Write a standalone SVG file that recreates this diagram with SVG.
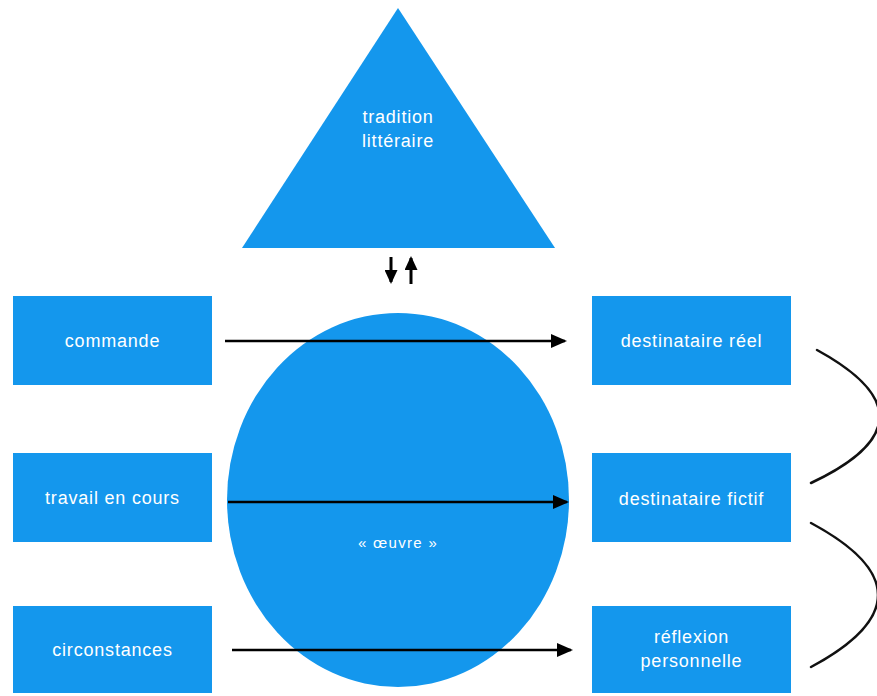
<svg xmlns="http://www.w3.org/2000/svg" width="877" height="696" viewBox="0 0 877 696">
  <style>
    .shape { fill: #1497ED; }
    .lbl { fill: #FFFFFF; font-family: "Liberation Sans", Helvetica, Arial, sans-serif; font-size: 18px; letter-spacing: 0.8px; text-anchor: middle; }
    .small { font-size: 15px; letter-spacing: 1.3px; }
    .conn { stroke: #000000; stroke-width: 2.5; fill: none; }
    .conn2 { stroke: #000000; stroke-width: 3; fill: none; }
    .curve { stroke: #111111; stroke-width: 2.5; fill: none; stroke-linecap: round; }
  </style>
  <defs>
    <marker id="arrow" markerUnits="userSpaceOnUse" markerWidth="16" markerHeight="14" refX="14" refY="7" orient="auto">
      <path d="M0,0 L16,7 L0,14 z" fill="#000000"/>
    </marker>
    <marker id="arrowSmall" markerUnits="userSpaceOnUse" markerWidth="14" markerHeight="13" refX="12" refY="6.5" orient="auto">
      <path d="M0,0 L14,6.5 L0,13 z" fill="#000000"/>
    </marker>
  </defs>
  <rect width="877" height="696" fill="#FFFFFF"/>

  <g id="tradition">
    <polygon class="shape" points="398,8 555,248 242,248"/>
    <text class="lbl" x="398" y="123">tradition</text>
    <text class="lbl" x="398" y="147">littéraire</text>
  </g>

  <g id="oeuvre">
    <ellipse class="shape" cx="398" cy="500" rx="171" ry="187"/>
    <text class="lbl small" x="398" y="548">« œuvre »</text>
  </g>

  <g id="commande">
    <rect class="shape" x="13" y="296" width="199" height="89"/>
    <text class="lbl" x="112.5" y="347">commande</text>
  </g>
  <g id="travail">
    <rect class="shape" x="13" y="453" width="199" height="89"/>
    <text class="lbl" x="112.5" y="504">travail en cours</text>
  </g>
  <g id="circonstances">
    <rect class="shape" x="13" y="606" width="199" height="87"/>
    <text class="lbl" x="112.5" y="656">circonstances</text>
  </g>

  <g id="destinataire-reel">
    <rect class="shape" x="592" y="296" width="199" height="89"/>
    <text class="lbl" x="691.5" y="347">destinataire réel</text>
  </g>
  <g id="destinataire-fictif">
    <rect class="shape" x="592" y="453" width="199" height="89"/>
    <text class="lbl" x="691.5" y="505">destinataire fictif</text>
  </g>
  <g id="reflexion">
    <rect class="shape" x="592" y="606" width="199" height="87"/>
    <text class="lbl" x="691.5" y="643">réflexion</text>
    <text class="lbl" x="691.5" y="667">personnelle</text>
  </g>

  <g id="connectors">
    <line class="conn" x1="225" y1="341" x2="565" y2="341" marker-end="url(#arrow)"/>
    <line class="conn" x1="228" y1="502" x2="567" y2="502" marker-end="url(#arrow)"/>
    <line class="conn" x1="232" y1="650" x2="571" y2="650" marker-end="url(#arrow)"/>
    <line class="conn2" x1="391" y1="257" x2="391" y2="282" marker-end="url(#arrowSmall)"/>
    <line class="conn2" x1="411" y1="284" x2="411" y2="258" marker-end="url(#arrowSmall)"/>
    <path class="curve" d="M817,350 Q945,420 811,483"/>
    <path class="curve" d="M811,523 Q945,595 811,667"/>
  </g>
</svg>
